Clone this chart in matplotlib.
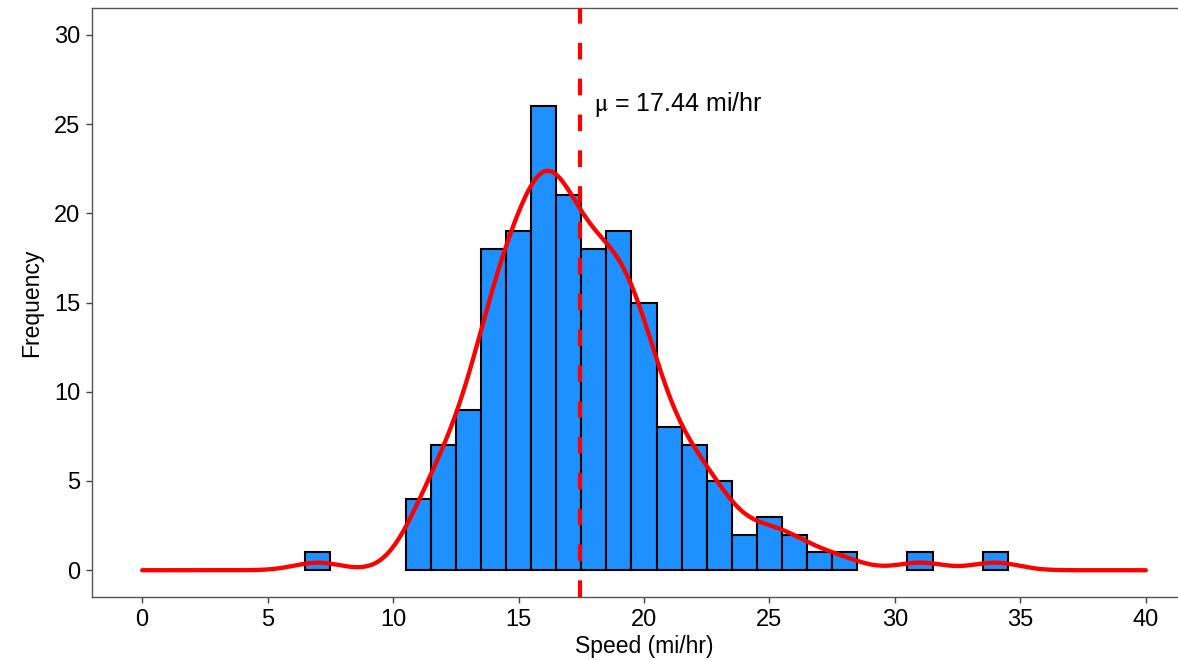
import matplotlib
matplotlib.use("Agg")
import matplotlib.pyplot as plt
import numpy as np

plt.rcParams['font.family'] = ['Liberation Sans', 'DejaVu Sans']
plt.rcParams['mathtext.fontset'] = 'stix'

# histogram counts (bins of width 1, centred on whole mph)
speeds = [7, 11, 12, 13, 14, 15, 16, 17, 18, 19, 20, 21, 22, 23, 24, 25, 26, 27, 28, 31, 34]
counts = [1, 4, 7, 9, 18, 19, 26, 21, 18, 19, 15, 8, 7, 5, 2, 3, 2, 1, 1, 1, 1]

x_ticks = [0, 5, 10, 15, 20, 25, 30, 35, 40]
y_ticks = [0, 5, 10, 15, 20, 25, 30]

obs = np.repeat(speeds, counts).astype(float)
n = len(obs)
mean_speed = obs.mean()

# gaussian kde scaled to counts, bandwidth as R's bw.nrd0
q75, q25 = np.percentile(obs, [75, 25])
bw = 0.9 * min(obs.std(ddof=1), (q75 - q25) / 1.34) * n ** -0.2
grid = np.linspace(0, 40, 512)
dens = np.exp(-0.5 * ((grid[:, None] - obs[None, :]) / bw) ** 2).sum(axis=1)
dens = dens / (bw * np.sqrt(2 * np.pi))  # n * density * binwidth(1)

fig = plt.figure(figsize=(11.78, 6.6), dpi=100)
ax = fig.add_axes([92 / 1178, 63 / 660, 1104 / 1178, 589 / 660])

ax.bar(speeds, counts, width=1, color='#1E90FF', edgecolor='black', linewidth=1.5, zorder=2)
ax.plot(grid, dens, color='red', lw=3.1, solid_capstyle='round', zorder=3)
ax.axvline(mean_speed, color='red', lw=3, dashes=(4, 4.6), zorder=4)
ax.text(mean_speed + 0.55, 26.1, r'$\mathrm{\mu}$ = ' + f'{mean_speed:.2f} mi/hr',
        fontsize=18, va='center', ha='left')

ax.set_xlim(-2, 42)
ax.set_ylim(-1.5, 31.5)
ax.set_xticks(x_ticks)
ax.set_yticks(y_ticks)
ax.tick_params(labelsize=17, length=4.5, width=1, color='#444444', pad=4)
ax.spines['right'].set_visible(False)
for side in ['left', 'bottom', 'top']:
    ax.spines[side].set_color('#555555')
    ax.spines[side].set_linewidth(1)
ax.set_xlabel('Speed (mi/hr)', fontsize=16.5, labelpad=3)
ax.set_ylabel('Frequency', fontsize=16.5, labelpad=8)

fig.savefig('out.png', dpi=100)
